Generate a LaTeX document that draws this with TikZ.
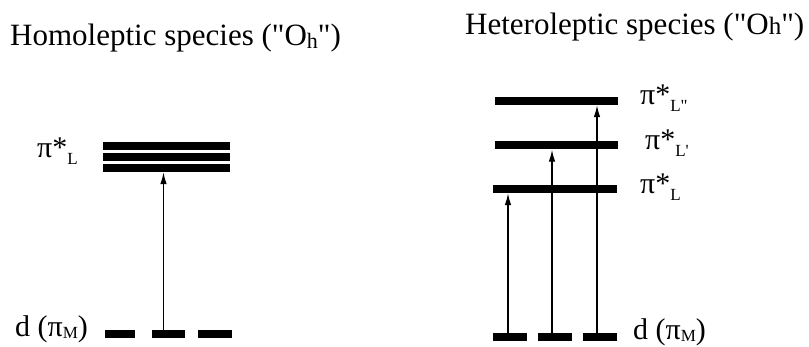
\documentclass[tikz,border=0pt]{standalone}
\usepackage{fontspec}
\setmainfont{Liberation Serif}
\usetikzlibrary{arrows.meta}
\tikzset{
  level/.style={fill=black, inner sep=0pt, minimum height=8pt, minimum width=#1},
  arr/.style={line width=1.3pt, -{Latex[length=12pt,width=6.5pt]}},
  title/.style={anchor=base west, inner sep=0pt, font=\fontsize{31}{31}\selectfont},
  lab/.style={anchor=base west, inner sep=0pt, font=\fontsize{30}{30}\selectfont}
}
\newcommand{\pisL}[1]{π*\raisebox{-7pt}{\fontsize{17}{17}\selectfont L#1}}
\newcommand{\dpiM}{d (π\raisebox{-2pt}{\fontsize{17}{17}\selectfont M})}
\begin{document}
\begin{tikzpicture}[x=1pt,y=-1pt]
\useasboundingbox (0,0) rectangle (809,347);
% titles
\node[title] (t1) at (10,46) {Homoleptic species (\textquotedbl O\raisebox{-3pt}{\fontsize{22}{22}\selectfont h}\textquotedbl)};
\node[title] (t2) at (465,35) {Heteroleptic species (\textquotedbl O{\fontsize{25}{25}\selectfont h}\textquotedbl)};
% left: homoleptic
\node[level=127pt] (a1) at (166.5,146.3) {};
\node[level=127pt] (a2) at (166.5,157) {};
\node[level=127pt] (a3) at (166.5,168) {};
\node[level=30pt] (ad1) at (120,334) {};
\node[level=33pt] (ad2) at (168.5,334) {};
\node[level=34pt] (ad3) at (215,334) {};
\draw[arr] ([xshift=-5pt]ad2.north) -- ([xshift=-5pt]ad2.north |- a3.south);
\node[lab] (la) at (37,158) {\pisL{}};
\node[lab] (ld) at (15,337) {\dpiM};
% right: heteroleptic
\node[level=123pt] (b3) at (556.5,101) {};
\node[level=123pt] (b2) at (556.5,145.5) {};
\node[level=124pt] (b1) at (555,189) {};
\node[level=34pt] (bd1) at (510,337) {};
\node[level=34pt] (bd2) at (555,337) {};
\node[level=34pt] (bd3) at (600,337) {};
\draw[arr] ([xshift=-2pt]bd1.north) -- ([xshift=-2pt]bd1.north |- b1.south);
\draw[arr] ([xshift=-3pt]bd2.north) -- ([xshift=-3pt]bd2.north |- b2.south);
\draw[arr] ([xshift=-3pt]bd3.north) -- ([xshift=-3pt]bd3.north |- b3.south);
\node[lab] (lb3) at (640,105) {\pisL{\textquotedbl}};
\node[lab] (lb2) at (645,150) {\pisL{\textquotesingle}};
\node[lab] (lb1) at (640,194) {\pisL{}};
\node[lab] (lbd) at (633,340) {\dpiM};
\end{tikzpicture}
\end{document}
